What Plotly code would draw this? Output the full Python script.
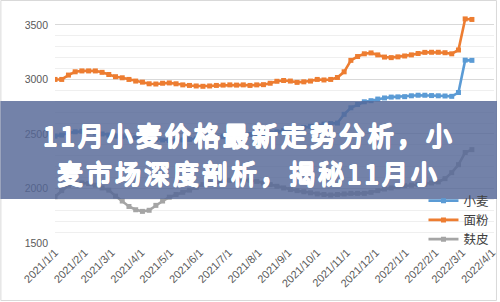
import pandas as pd
import plotly.graph_objects as go

# ---- data (weekly observations, yuan/ton) ----
start_date = "2021-01-01"
n_weeks = 63
dates = pd.date_range(start_date, periods=n_weeks, freq="7D")

wheat = [2480, 2490, 2510, 2520, 2525, 2520, 2510, 2500, 2490, 2480,
         2475, 2470, 2465, 2460, 2455, 2450, 2445, 2440, 2440, 2445,
         2450, 2455, 2460, 2465, 2470, 2475, 2480, 2485, 2490, 2495,
         2500, 2505, 2510, 2520, 2530, 2540, 2550, 2560, 2570, 2580,
         2590, 2595, 2600, 2680, 2740, 2770, 2795, 2805, 2820, 2830,
         2838, 2840, 2842, 2850, 2855, 2855, 2852, 2850, 2848, 2845,
         2880, 3177, 3175]

flour = [3000, 3000, 3040, 3070, 3078, 3078, 3078, 3065, 3045, 3025,
         3015, 3000, 2985, 2975, 2960, 2958, 2965, 2968, 2960, 2950,
         2945, 2940, 2937, 2940, 2945, 2948, 2950, 2948, 2950, 2945,
         2950, 2952, 2965, 2983, 2990, 2985, 2973, 2978, 2985, 3000,
         2995, 3000, 3018, 3070, 3175, 3210, 3235, 3243, 3225, 3205,
         3200, 3207, 3215, 3225, 3238, 3248, 3249, 3249, 3245, 3235,
         3270, 3555, 3550]

bran = [1925, 1980, 2030, 2045, 2050, 2045, 2030, 2005, 1985, 1930,
        1885, 1835, 1805, 1790, 1800, 1845, 1885, 1920, 1945, 1965,
        1985, 2010, 2035, 2050, 2060, 2070, 2075, 2078, 2075, 2075,
        2065, 2050, 2035, 2020, 2005, 1990, 1980, 1970, 1960, 1950,
        1945, 1940, 1945, 1950, 1955, 1955, 1955, 1965, 1980, 1995,
        2005, 2015, 2025, 2030, 2035, 2040, 2050, 2060, 2090, 2145,
        2218, 2330, 2356]

series_names = ["小麦", "面粉", "麸皮"]
series_colors = ["#5B9BD5", "#ED7D31", "#A5A5A5"]

x_tick_vals = ["2021-01-01", "2021-02-01", "2021-03-01", "2021-04-01", "2021-05-01",
               "2021-06-01", "2021-07-01", "2021-08-01", "2021-09-01", "2021-10-01",
               "2021-11-01", "2021-12-01", "2022-01-01", "2022-02-01", "2022-03-01",
               "2022-04-01"]
x_tick_text = ["2021/1/1", "2021/2/1", "2021/3/1", "2021/4/1", "2021/5/1",
               "2021/6/1", "2021/7/1", "2021/8/1", "2021/9/1", "2021/10/1",
               "2021/11/1", "2021/12/1", "2022/1/1", "2022/2/1", "2022/3/1",
               "2022/4/1"]
y_tick_vals = [1500, 2000, 2500, 3000, 3500]

title_lines = ["11月小麦价格最新走势分析，小", "麦市场深度剖析，揭秘11月小"]

# ---- layout geometry (pixels) ----
W, H = 500, 302
L, R, T, B = 55, 3, 14, 59
pw, ph = W - L - R, H - T - B


def px(x):
    return (x - L) / pw


def py(y):
    return (H - B - y) / ph


fig = go.Figure()
for name, vals, col in zip(series_names, [wheat, flour, bran], series_colors):
    fig.add_trace(go.Scatter(
        x=dates, y=vals, name=name, mode="lines+markers",
        line=dict(color=col, width=2.6),
        marker=dict(symbol="square", size=5, color=col),
    ))

fig.update_layout(
    width=W, height=H,
    margin=dict(l=L, r=R, t=T, b=B),
    paper_bgcolor="white", plot_bgcolor="white",
    font=dict(family="Liberation Sans, Arial, sans-serif", color="#595959", size=10),
    showlegend=True,
    legend=dict(
        x=px(426), y=py(186), xanchor="left", yanchor="top",
        bgcolor="rgba(0,0,0,0)",
        font=dict(family="Noto Sans CJK SC", size=12.5, color="#404040"),
        itemwidth=30, tracegroupgap=0,
    ),
    xaxis=dict(
        range=["2021-01-01", "2022-04-03"],
        tickvals=x_tick_vals, ticktext=x_tick_text, tickangle=-45,
        showgrid=False, zeroline=False, showline=False, ticks="",
        ticklabeloverflow="allow",
        tickfont=dict(size=11, color="#595959"),
    ),
    yaxis=dict(
        range=[1500, 3600],
        tickvals=y_tick_vals,
        showgrid=True, gridcolor="#D9D9D9", gridwidth=1,
        minor=dict(dtick=100, showgrid=True, gridcolor="#EFEFEF", gridwidth=1),
        zeroline=False, showline=False, ticks="",
        ticklabelstandoff=6,
        tickfont=dict(size=10.5, color="#595959"),
    ),
)

# chart border
fig.add_shape(type="rect", xref="paper", yref="paper",
              x0=px(0.5), x1=px(499.5), y0=py(300.5), y1=py(0.5),
              line=dict(color="#D9D9D9", width=1), layer="below")

# banner overlay
fig.add_shape(type="rect", xref="paper", yref="paper",
              x0=px(0), x1=px(500), y0=py(199), y1=py(101),
              fillcolor="rgba(84,102,150,0.82)", line=dict(width=0), layer="above")

heavy = ("0.8px 0 0 white, -0.8px 0 0 white, 0 0.8px 0 white, 0 -0.8px 0 white, "
         "0.6px 0.6px 0 white, -0.6px -0.6px 0 white, 0.6px -0.6px 0 white, -0.6px 0.6px 0 white")
for line_text, yc in zip(title_lines, [134, 172]):
    fig.add_annotation(
        xref="paper", yref="paper", x=px(250), y=py(yc),
        xanchor="center", yanchor="middle", showarrow=False,
        text='<span style="letter-spacing:3px">' + line_text + '</span>',
        font=dict(family="Noto Sans CJK SC", size=26, color="white", shadow=heavy),
    )

fig.write_html("out.html")
